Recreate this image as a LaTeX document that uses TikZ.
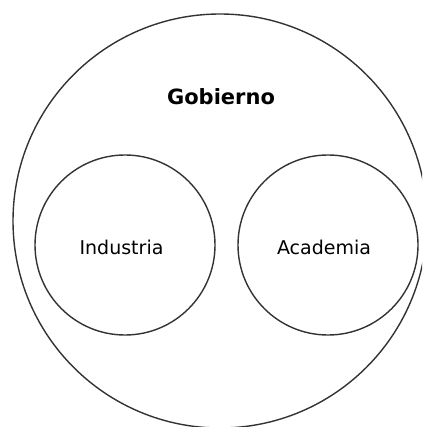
\documentclass[tikz,border=0pt]{standalone}
\usepackage{fontspec}
\setmainfont{DejaVu Sans}
\begin{document}
\begin{tikzpicture}[x=1pt,y=-1pt,
  ring/.style={draw=black!80,line width=1.4pt,circle,inner sep=0pt},
  lbl/.style={anchor=base,inner sep=0pt,font=\fontsize{19}{22}\selectfont},
  title/.style={anchor=base,inner sep=0pt,font=\fontsize{21}{24}\selectfont\bfseries}]
\useasboundingbox (0,0) rectangle (422,427);
\clip (0,0) rectangle (422,427);
\node[ring,minimum size=414pt] (gob) at (220,221) {};
\node[ring,minimum size=180pt] (ind) at (125,245) {};
\node[ring,minimum size=180pt] (aca) at (328,245) {};
\node[title] (tgob) at (221,105) {Gobierno};
\node[lbl] (tind) at (121.5,254) {Industria};
\node[lbl] (taca) at (324,254) {Academia};
\end{tikzpicture}
\end{document}
